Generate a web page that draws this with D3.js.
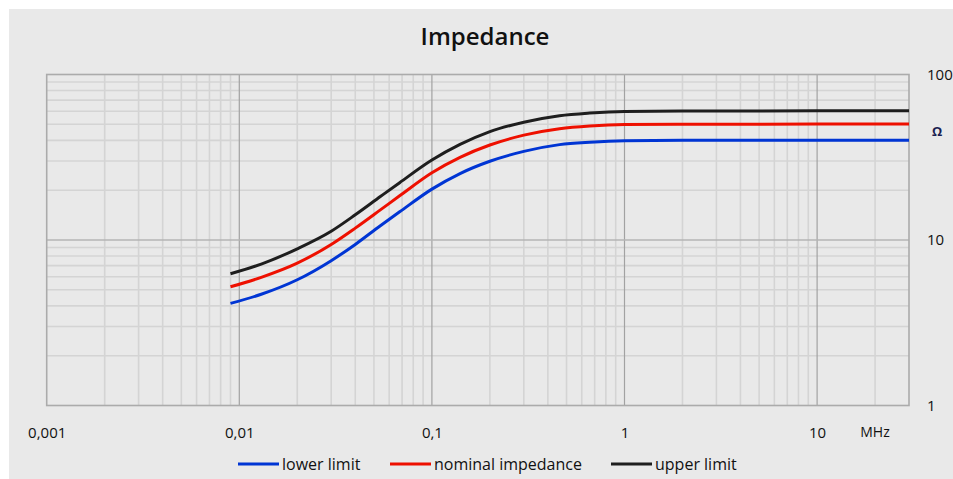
<!DOCTYPE html>
<html><head><meta charset="utf-8">
<script src="https://cdn.jsdelivr.net/npm/d3@7"></script>
<style>
html,body{margin:0;padding:0;background:#fff;}
svg{display:block;font-family:"Open Sans",sans-serif;}
</style></head>
<body><svg id="c" width="953" height="479"></svg>
<script>
// ---- data ----
const freqMHz = [0.009, 0.013, 0.02, 0.03, 0.04, 0.054, 0.068, 0.1, 0.14, 0.2, 0.3, 0.46, 0.66, 1, 2, 5, 10, 30];
const lowerLimit = [4.14, 4.7, 5.75, 7.5, 9.4, 12.2, 14.8, 20.3, 25.2, 29.9, 34.3, 37.7, 39.0, 39.8, 40, 40, 40.1, 40.1];
const nominalImpedance = [5.22, 5.95, 7.25, 9.4, 11.8, 15.2, 18.5, 25.5, 31.6, 37.5, 43.0, 47.0, 48.8, 49.8, 50, 50.1, 50.2, 50.2];
const upperLimit = [6.25, 7.15, 8.85, 11.3, 14.2, 18.3, 22.2, 30.4, 37.8, 45.2, 51.5, 56.4, 58.5, 59.8, 60.1, 60.2, 60.3, 60.3];
const xTickValues = [0.001, 0.01, 0.1, 1, 10];
const xTickLabels = ["0,001", "0,01", "0,1", "1", "10"];
const yTickValues = [1, 10, 100];
const yTickLabels = ["1", "10", "100"];
const seriesNames = ["lower limit", "nominal impedance", "upper limit"];
const seriesColors = ["#0035d4", "#ee1000", "#1e1e1e"];

const series = [lowerLimit, nominalImpedance, upperLimit];

const svg = d3.select("#c");
svg.append("rect").attr("x", 9).attr("y", 9).attr("width", 944).attr("height", 470).attr("fill", "#e9e9e9");

const L = 46.7, R = 909, T = 74.5, B = 405.5;
const x = d3.scaleLog().domain([0.001, 30]).range([L, R]);
const y = d3.scaleLog().domain([1, 100]).range([B, T]);

// title
svg.append("text").attr("x", 485).attr("y", 45).attr("text-anchor", "middle")
  .attr("font-size", 24).attr("font-weight", 600).attr("fill", "#111").text("Impedance");

// grid
const g = svg.append("g");
const xMinor = [], yMinor = [];
for (let d = 0.001; d < 30; d *= 10) for (let k = 2; k <= 9; k++) { const v = d * k; if (v < 30) xMinor.push(v); }
for (let d = 1; d < 100; d *= 10) for (let k = 2; k <= 9; k++) yMinor.push(d * k);

g.selectAll(".xm").data(xMinor).join("line")
  .attr("x1", d => x(d)).attr("x2", d => x(d)).attr("y1", T).attr("y2", B)
  .attr("stroke", "#d4d4d4").attr("stroke-width", 1.6);
g.selectAll(".ym").data(yMinor).join("line")
  .attr("x1", L).attr("x2", R).attr("y1", d => y(d)).attr("y2", d => y(d))
  .attr("stroke", "#d4d4d4").attr("stroke-width", 1.6);
g.selectAll(".xM").data([0.01, 0.1, 1, 10]).join("line")
  .attr("x1", d => x(d)).attr("x2", d => x(d)).attr("y1", T).attr("y2", B)
  .attr("stroke", "#a2a2a2").attr("stroke-width", 1.2);
g.selectAll(".yM").data([10]).join("line")
  .attr("x1", L).attr("x2", R).attr("y1", d => y(d)).attr("y2", d => y(d))
  .attr("stroke", "#b4b4b4").attr("stroke-width", 1.6);
g.append("rect").attr("x", L).attr("y", T).attr("width", R - L).attr("height", B - T)
  .attr("fill", "none").attr("stroke", "#ababab").attr("stroke-width", 1.6);

// axes (labels via d3 axis)
const xAxis = d3.axisBottom(x).tickValues(xTickValues).tickFormat((d, i) => xTickLabels[i]).tickSize(0).tickPadding(0);
const xa = svg.append("g").attr("transform", `translate(0,${B + 22})`).call(xAxis);
xa.select(".domain").remove();
xa.selectAll("text").attr("font-size", 15).attr("fill", "#111").attr("font-family", "Open Sans");

const yAxis = d3.axisRight(y).tickValues(yTickValues).tickFormat((d, i) => yTickLabels[i]).tickSize(0).tickPadding(0);
const ya = svg.append("g").attr("transform", `translate(927,0)`).call(yAxis);
ya.select(".domain").remove();
ya.selectAll("text").attr("font-size", 15).attr("fill", "#111").attr("font-family", "Open Sans");

svg.append("text").attr("x", 875).attr("y", 437).attr("text-anchor", "middle")
  .attr("font-size", 14).attr("fill", "#111").text("MHz");
svg.append("text").attr("x", 937).attr("y", 136).attr("text-anchor", "middle")
  .attr("font-size", 13).attr("font-weight", 700).attr("fill", "#1a2050").text("Ω");

// lines
const line = d3.line().x((d, i) => x(freqMHz[i])).y(d => y(d)).curve(d3.curveMonotoneX);
svg.selectAll(".series").data(series).join("path")
  .attr("d", d => line(d)).attr("fill", "none")
  .attr("stroke", (d, i) => seriesColors[i]).attr("stroke-width", 3);

// legend
const legX = [238, 390, 611];
const lg = svg.selectAll(".leg").data(seriesNames).join("g")
  .attr("transform", (d, i) => `translate(${legX[i]},464)`);
lg.append("line").attr("x1", 0).attr("x2", 41).attr("y1", 0).attr("y2", 0)
  .attr("stroke", (d, i) => seriesColors[i]).attr("stroke-width", 3);
lg.append("text").attr("x", 44).attr("y", 5.5).attr("font-size", 16).attr("fill", "#111").text(d => d);
</script></body></html>
